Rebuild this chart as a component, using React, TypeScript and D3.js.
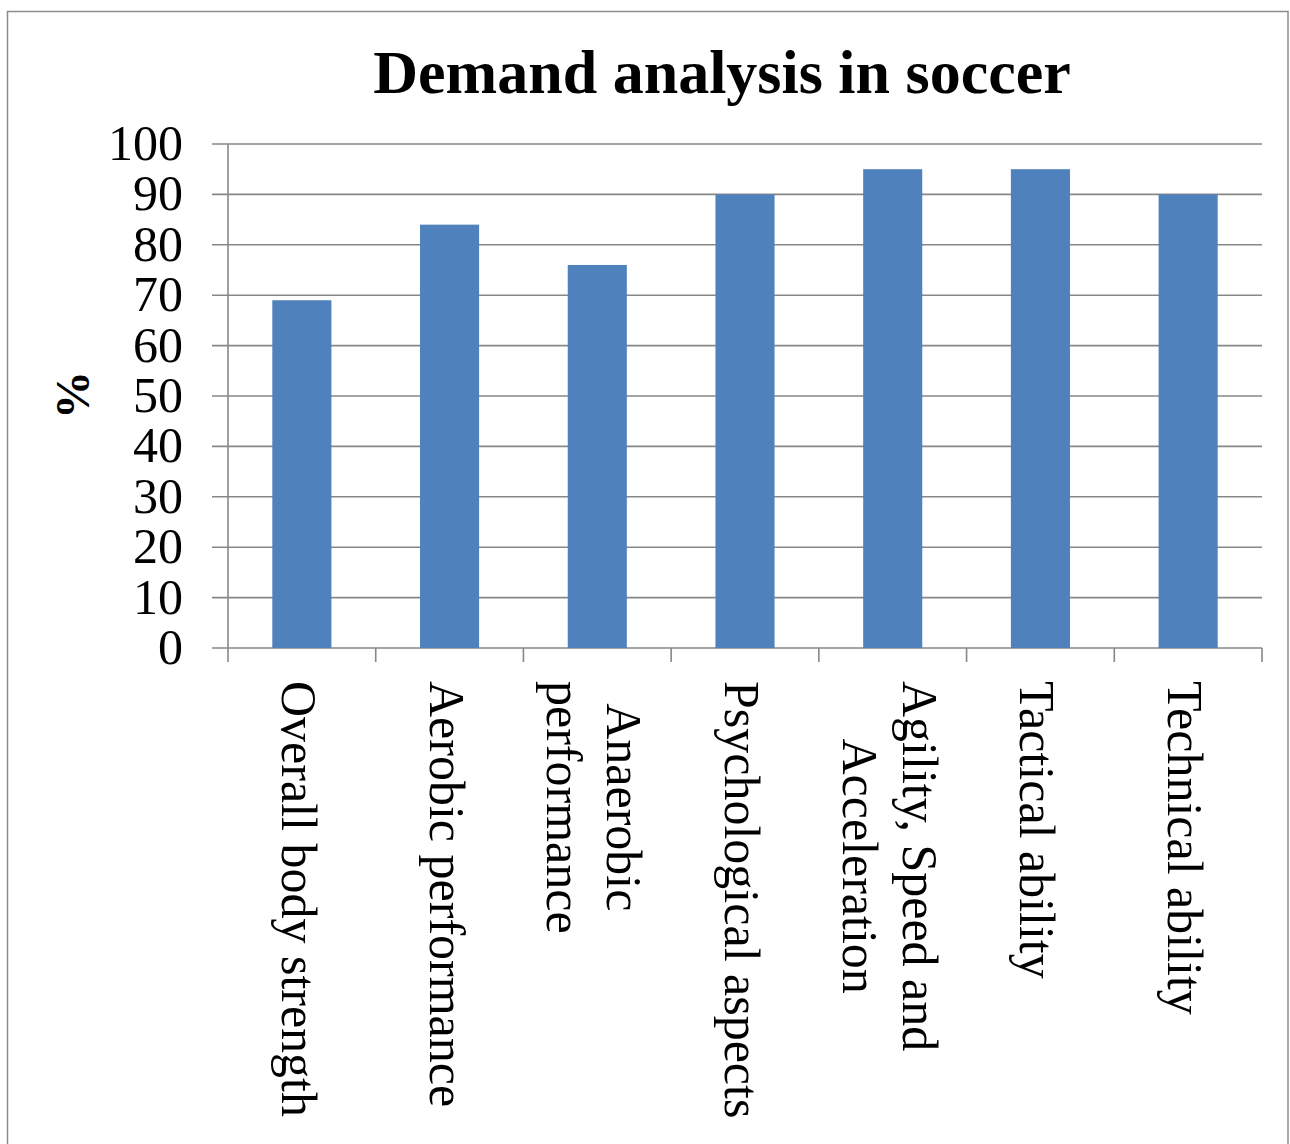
import React, { useEffect, useRef } from "react";
import * as d3 from "d3";

const categories: string[][] = [
  ["Overall body strength"],
  ["Aerobic performance"],
  ["Anaerobic", "performance"],
  ["Psychological aspects"],
  ["Agility, Speed and", "Acceleration"],
  ["Tactical ability"],
  ["Technical ability"],
];
const values: number[] = [69, 84, 76, 90, 95, 95, 90];
const yTicks: number[] = [0, 10, 20, 30, 40, 50, 60, 70, 80, 90, 100];
const title = "Demand analysis in soccer";
const yTitle = "%";

const W = 1290;
const H = 1144;
const SERIF = "'Liberation Serif', 'Times New Roman', serif";

export default function App() {
  const ref = useRef<SVGSVGElement | null>(null);

  useEffect(() => {
    const svg = d3.select(ref.current);
    svg.selectAll("*").remove();

    const left = 228, right = 1262, top = 144, bottom = 648;
    const grid = "#878787";

    // frame
    svg.append("rect")
      .attr("x", 7.5).attr("y", 11.5)
      .attr("width", 1288 - 7.5).attr("height", H + 20)
      .attr("fill", "white").attr("stroke", "#8c8c8c").attr("stroke-width", 1.5);

    const x = d3.scaleBand<number>()
      .domain(d3.range(categories.length))
      .range([left, right])
      .paddingInner(0.6)
      .paddingOuter(0.3);
    const step = x.step();
    const y = d3.scaleLinear().domain([0, 100]).range([bottom, top]);

    // gridlines + y tick marks
    svg.append("g").selectAll("line").data(yTicks).join("line")
      .attr("x1", left - 16).attr("x2", right)
      .attr("y1", (d) => y(d)).attr("y2", (d) => y(d))
      .attr("stroke", grid).attr("stroke-width", 1.6);

    // y axis line
    svg.append("line")
      .attr("x1", left).attr("x2", left).attr("y1", top).attr("y2", bottom)
      .attr("stroke", grid).attr("stroke-width", 1.6);

    // x tick marks
    svg.append("g").selectAll("line").data(d3.range(categories.length + 1)).join("line")
      .attr("x1", (i) => left + i * step).attr("x2", (i) => left + i * step)
      .attr("y1", bottom).attr("y2", bottom + 14)
      .attr("stroke", grid).attr("stroke-width", 1.6);

    // bars
    svg.append("g").selectAll("rect").data(values).join("rect")
      .attr("x", (_d, i) => x(i) as number)
      .attr("width", x.bandwidth())
      .attr("y", (d) => y(d))
      .attr("height", (d) => y(0) - y(d))
      .attr("fill", "#4F81BD");

    // y tick labels
    svg.append("g").selectAll("text").data(yTicks).join("text")
      .attr("x", 183).attr("y", (d) => y(d) + 16)
      .attr("text-anchor", "end")
      .attr("font-family", SERIF).attr("font-size", 50)
      .attr("fill", "#000")
      .text((d) => String(d));

    // y title
    svg.append("text")
      .attr("transform", "translate(89,395) rotate(-90)")
      .attr("text-anchor", "middle")
      .attr("font-family", SERIF).attr("font-size", 48).attr("font-weight", "bold")
      .text(yTitle);

    // title
    svg.append("text")
      .attr("x", 722).attr("y", 93)
      .attr("text-anchor", "middle")
      .attr("font-family", SERIF).attr("font-size", 62).attr("font-weight", "bold")
      .text(title);

    // category labels
    const lh = 60;
    categories.forEach((lines, i) => {
      const cx = (x(i) as number) + x.bandwidth() / 2;
      const g = svg.append("g").attr("transform", `translate(${cx},681) rotate(90)`);
      const texts = lines.map((ln, j) =>
        g.append("text")
          .attr("y", 20 - ((lines.length - 1) / 2) * lh + j * lh)
          .attr("font-family", SERIF).attr("font-size", 50)
          .attr("fill", "#000")
          .text(ln)
      );
      if (lines.length > 1) {
        const widths = texts.map((t) => (t.node() as SVGTextElement).getComputedTextLength());
        const maxW = Math.max(...widths);
        texts.forEach((t) => t.attr("x", maxW / 2).attr("text-anchor", "middle"));
      }
    });
  }, []);

  return (
    <svg
      ref={ref}
      width={W}
      height={H}
      style={{ position: "absolute", left: 0, top: 0, background: "white" }}
    />
  );
}
